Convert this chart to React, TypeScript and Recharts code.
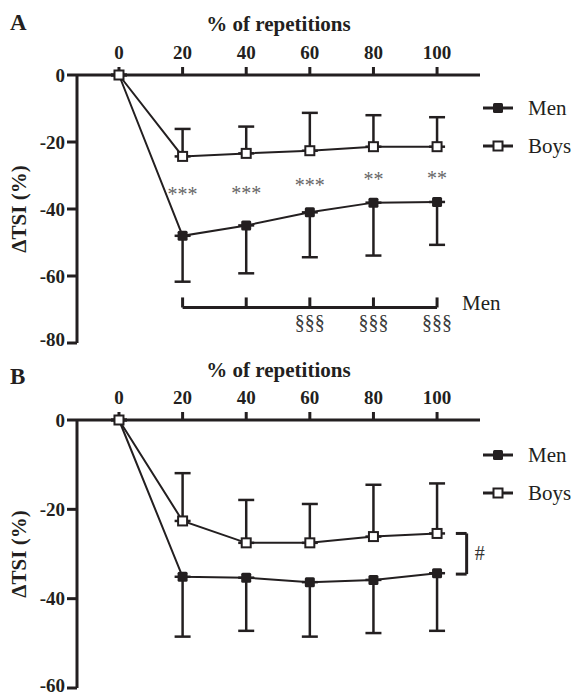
import React from 'react'
import { LineChart, Line, XAxis, YAxis, ErrorBar, Legend, ReferenceLine, ReferenceDot } from 'recharts'

const ink = '#231f20'
const serif = "'Liberation Serif', 'Times New Roman', serif"

const reps = [0, 20, 40, 60, 80, 100]
const groups = ['Men', 'Boys']

// panel A
const menA = [0, -48.0, -44.9, -41.0, -38.1, -37.9]
const menSdA = [0, 13.7, 14.3, 13.4, 15.8, 12.8]
const boysA = [0, -24.3, -23.4, -22.6, -21.4, -21.4]
const boysSdA = [0, 8.2, 8.0, 11.3, 9.4, 8.8]
const starsA = ['', '***', '***', '***', '**', '**']
const starYA = [0, -35.4, -35.1, -32.7, -31.0, -30.6]
const sectionA = ['', '', '', '§§§', '§§§', '§§§']

// panel B
const menB = [0, -35.1, -35.3, -36.3, -35.8, -34.3]
const menSdB = [0, 13.4, 11.9, 12.2, 11.9, 12.9]
const boysB = [0, -22.6, -27.5, -27.5, -26.1, -25.4]
const boysSdB = [0, 10.7, 9.6, 8.7, 11.6, 11.2]

const rowsOf = (men: number[], menSd: number[], boys: number[], boysSd: number[]) =>
  reps.map((r, i) => ({
    rep: r,
    men: men[i],
    menErr: [menSd[i], 0],
    boys: boys[i],
    boysErr: [0, boysSd[i]],
  }))

const dataA = rowsOf(menA, menSdA, boysA, boysSdA)
const dataB = rowsOf(menB, menSdB, boysB, boysSdB)

function Square({ cx, cy, filled }: any) {
  if (cx == null || cy == null) return null
  return filled ? (
    <rect x={cx - 5} y={cy - 5} width={10} height={10} rx={1.5} fill={ink} />
  ) : (
    <rect x={cx - 4.5} y={cy - 4.5} width={9} height={9} fill="#fff" stroke={ink} strokeWidth={2} />
  )
}

const renderLegend = (props: any) => {
  const items = [...(props.payload || [])].sort(
    (a: any, b: any) => groups.indexOf(a.value) - groups.indexOf(b.value)
  )
  return (
    <div style={{ fontFamily: serif, fontSize: 21, color: ink }}>
      {items.map((e: any) => (
        <div key={e.value} style={{ display: 'flex', alignItems: 'center', height: 38 }}>
          <svg width={32} height={14}>
            <line x1={1} x2={31} y1={7} y2={7} stroke={ink} strokeWidth={3} />
            <Square cx={16} cy={7} filled={e.value === 'Men'} />
          </svg>
          <span style={{ marginLeft: 14 }}>{e.value}</span>
        </div>
      ))}
    </div>
  )
}

const yLabel = (props: any) => {
  const vb = props.viewBox
  const x = 19
  const y = vb.y + vb.height / 2
  return (
    <text
      x={x}
      y={y}
      transform={`rotate(-90 ${x} ${y})`}
      textAnchor="middle"
      dominantBaseline="central"
      fontFamily={serif}
      fontWeight="bold"
      fontSize={21}
      fill={ink}
    >
      ΔTSI (%)
    </text>
  )
}

const tickStyle = { fill: ink, fontSize: 19, fontWeight: 'bold', fontFamily: serif }

function Panel({ data, yMin, height, top, legendTop, titleOffset, children }: any) {
  const yTicks = []
  for (let v = 0; v >= yMin; v -= 20) yTicks.push(v)
  return (
    <LineChart
      width={574}
      height={height}
      data={data}
      margin={{ top: top - 30, right: 94, bottom: height - top - 268, left: 17 }}
    >
      <XAxis
        dataKey="rep"
        type="number"
        orientation="top"
        domain={[-13.2, 113.5]}
        allowDataOverflow
        ticks={reps}
        height={30}
        tickSize={8}
        tickMargin={8}
        axisLine={{ stroke: ink, strokeWidth: 3 }}
        tickLine={{ stroke: ink, strokeWidth: 3 }}
        tick={tickStyle}
        label={{
          value: '% of repetitions',
          position: 'top',
          offset: titleOffset,
          fill: ink,
          fontSize: 21,
          fontWeight: 'bold',
          fontFamily: serif,
        }}
      />
      <YAxis
        type="number"
        domain={[yMin, 0]}
        ticks={yTicks}
        width={60}
        tickSize={10}
        tickMargin={2}
        axisLine={{ stroke: ink, strokeWidth: 3 }}
        tickLine={{ stroke: ink, strokeWidth: 3 }}
        tick={tickStyle}
        label={{ content: yLabel }}
      />
      <Legend
        layout="vertical"
        align="center"
        verticalAlign="middle"
        content={renderLegend}
        wrapperStyle={{ top: legendTop, left: 482, width: 92 }}
      />
      {children}
      <Line
        dataKey="men"
        name="Men"
        stroke={ink}
        strokeWidth={2}
        isAnimationActive={false}
        dot={(p: any) => <Square key={`m${p.index}`} cx={p.cx} cy={p.cy} filled />}
      >
        <ErrorBar dataKey="menErr" width={8} strokeWidth={2.5} stroke={ink} direction="y" />
      </Line>
      <Line
        dataKey="boys"
        name="Boys"
        stroke={ink}
        strokeWidth={2}
        isAnimationActive={false}
        dot={(p: any) => <Square key={`b${p.index}`} cx={p.cx} cy={p.cy} />}
      >
        <ErrorBar dataKey="boysErr" width={8} strokeWidth={2.5} stroke={ink} direction="y" />
      </Line>
    </LineChart>
  )
}

const bracket = { stroke: ink, strokeWidth: 3, ifOverflow: 'visible' as const }
const letter = {
  position: 'absolute' as const,
  left: 10,
  fontFamily: serif,
  fontWeight: 'bold' as const,
  fontSize: 23,
  lineHeight: '23px',
  color: ink,
}

export default function App() {
  return (
    <div style={{ position: 'absolute', left: 0, top: 0, width: 574, height: 696, background: '#fff' }}>
      <div style={{ ...letter, top: 11 }}>A</div>
      <div style={{ position: 'absolute', left: 0, top: 0 }}>
        <Panel data={dataA} yMin={-80} height={350} top={75} legendTop={89} titleOffset={14}>
          {reps.map((r, i) =>
            starsA[i] ? (
              <ReferenceDot
                key={`s${r}`}
                x={r}
                y={starYA[i]}
                r={0}
                fill="none"
                stroke="none"
                ifOverflow="visible"
                label={{ value: starsA[i], position: 'center', fill: '#666', fontSize: 20, fontFamily: serif }}
              />
            ) : null
          )}
          <ReferenceLine segment={[{ x: 20, y: -69.4 }, { x: 100, y: -69.4 }]} {...bracket} />
          {reps.slice(1).map((r) => (
            <ReferenceLine key={`t${r}`} segment={[{ x: r, y: -69.4 }, { x: r, y: -66.4 }]} {...bracket} />
          ))}
          <ReferenceDot
            x={100}
            y={-67.8}
            r={0}
            fill="none"
            stroke="none"
            ifOverflow="visible"
            label={{ value: 'Men', position: 'right', offset: 25, fill: ink, fontSize: 21, fontFamily: serif }}
          />
          {reps.map((r, i) =>
            sectionA[i] ? (
              <ReferenceDot
                key={`g${r}`}
                x={r}
                y={-73.7}
                r={0}
                fill="none"
                stroke="none"
                ifOverflow="visible"
                label={{ value: sectionA[i], position: 'center', fill: '#3a3a3a', fontSize: 20, fontFamily: serif }}
              />
            ) : null
          )}
        </Panel>
      </div>
      <div style={{ ...letter, top: 365 }}>B</div>
      <div style={{ position: 'absolute', left: 0, top: 350 }}>
        <Panel data={dataB} yMin={-60} height={346} top={70} legendTop={86} titleOffset={13}>
          <ReferenceLine segment={[{ x: 105.9, y: -25.4 }, { x: 109.3, y: -25.4 }]} {...bracket} />
          <ReferenceLine segment={[{ x: 109.3, y: -25.4 }, { x: 109.3, y: -34.5 }]} {...bracket} />
          <ReferenceLine segment={[{ x: 105.9, y: -34.5 }, { x: 109.3, y: -34.5 }]} {...bracket} />
          <ReferenceDot
            x={109.3}
            y={-29.8}
            r={0}
            fill="none"
            stroke="none"
            ifOverflow="visible"
            label={{ value: '#', position: 'right', offset: 8, fill: '#333', fontSize: 20, fontFamily: serif }}
          />
        </Panel>
      </div>
    </div>
  )
}
